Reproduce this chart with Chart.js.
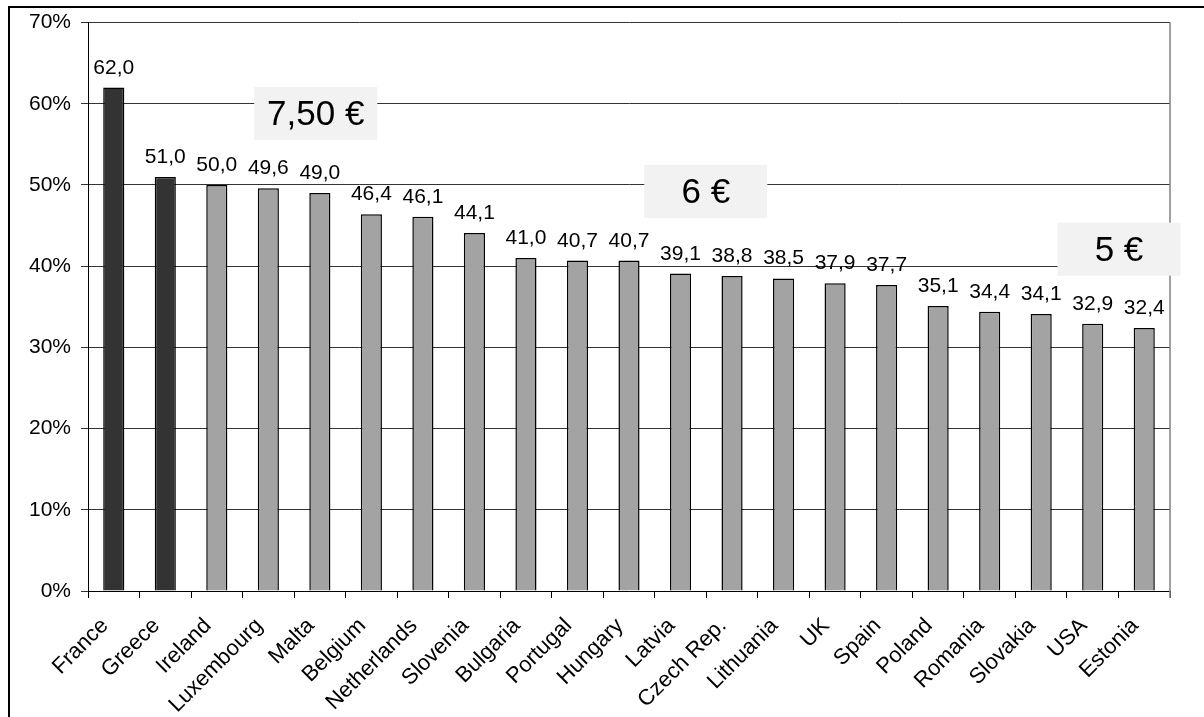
<!DOCTYPE html>
<html>
<head>
<meta charset="utf-8">
<script src="https://cdn.jsdelivr.net/npm/chart.js@4.4.1/dist/chart.umd.min.js"></script>
<style>
  html, body { margin: 0; padding: 0; background: #fff; overflow: hidden; }
  #wrap { position: relative; width: 1204px; height: 717px; }
  #frame { position: absolute; left: 8px; top: 6px; width: 1300px; height: 800px; border: 2px solid #000; box-sizing: border-box; }
  #myChart { position: absolute; left: 0; top: 0; }
</style>
</head>
<body>
<div id="wrap">
  <div id="frame"></div>
  <canvas id="myChart" width="1204" height="717"></canvas>
</div>
<script>
const countries = ['France', 'Greece', 'Ireland', 'Luxembourg', 'Malta', 'Belgium', 'Netherlands', 'Slovenia', 'Bulgaria', 'Portugal', 'Hungary', 'Latvia', 'Czech Rep.', 'Lithuania', 'UK', 'Spain', 'Poland', 'Romania', 'Slovakia', 'USA', 'Estonia'];
const shares = [62.0, 51.0, 50.0, 49.6, 49.0, 46.4, 46.1, 44.1, 41.0, 40.7, 40.7, 39.1, 38.8, 38.5, 37.9, 37.7, 35.1, 34.4, 34.1, 32.9, 32.4];
const highlighted = ['France', 'Greece'];
const yTicks = [0, 10, 20, 30, 40, 50, 60, 70];
// price boxes: label, position along the category axis (index) and value axis (%)
const priceLabels = ['7,50 €', '6 €', '5 €'];
const priceAtIndex = [3.92, 11.49, 19.51];
const priceAtValue = [58.8, 49.2, 42.1];

const FONT = "'Liberation Sans', Arial, sans-serif";

const barColors = countries.map(c => highlighted.includes(c) ? '#333333' : '#a3a3a3');

const valueLabels = {
    id: 'valueLabels',
    afterDatasetsDraw(chart) {
        const ctx = chart.ctx;
        const meta = chart.getDatasetMeta(0);
        ctx.save();
        ctx.font = '21px ' + FONT;
        ctx.fillStyle = '#000';
        ctx.textAlign = 'center';
        ctx.textBaseline = 'alphabetic';
        meta.data.forEach((bar, i) => {
            ctx.fillText(shares[i].toFixed(1).replace('.', ','), bar.x, bar.y - 14);
        });
        ctx.restore();
    }
};

const priceBoxes = {
    id: 'priceBoxes',
    afterDatasetsDraw(chart) {
        const ctx = chart.ctx;
        const xs = chart.scales.x, ys = chart.scales.y;
        ctx.save();
        ctx.font = '35px ' + FONT;
        priceLabels.forEach((txt, i) => {
            const cx = xs.getPixelForValue(priceAtIndex[i]);
            const cy = ys.getPixelForValue(priceAtValue[i]);
            const w = 123, h = 53;
            ctx.fillStyle = '#f2f2f2';
            ctx.fillRect(cx - w / 2, cy - h / 2, w, h);
            ctx.fillStyle = '#000';
            ctx.textAlign = 'center';
            ctx.textBaseline = 'middle';
            ctx.fillText(txt, cx, cy + 2);
        });
        ctx.restore();
    }
};

const plotBorder = {
    id: 'plotBorder',
    beforeDatasetsDraw(chart) {
        const a = chart.chartArea;
        const ctx = chart.ctx;
        ctx.save();
        ctx.strokeStyle = '#808080';
        ctx.lineWidth = 1.5;
        ctx.beginPath();
        ctx.moveTo(a.right, a.top);
        ctx.lineTo(a.right, a.bottom + 7);
        ctx.stroke();
        ctx.restore();
    }
};

const ctx = document.getElementById('myChart').getContext('2d');
const myChart = new Chart(ctx, {
    type: 'bar',
    data: {
        labels: countries,
        datasets: [{
            data: shares,
            backgroundColor: barColors,
            borderColor: '#000',
            borderWidth: 1.5,
            categoryPercentage: 1,
            barPercentage: 0.41
        }]
    },
    options: {
        responsive: false,
        animation: false,
        devicePixelRatio: 1,
        layout: { padding: { top: 21, right: 34, left: 0, bottom: 0 } },
        plugins: {
            legend: { display: false },
            tooltip: { enabled: false }
        },
        scales: {
            x: {
                grid: { display: true, offset: true, drawOnChartArea: false, drawTicks: true, tickLength: 7, color: '#000' },
                border: { display: true, color: '#000', width: 1 },
                ticks: {
                    autoSkip: false,
                    maxRotation: 45,
                    minRotation: 45,
                    color: '#000',
                    font: { family: FONT, size: 22 },
                    padding: 15,
                    labelOffset: -9
                },
                afterFit(scale) { scale.height = 126; }
            },
            y: {
                min: 0,
                max: 70,
                afterBuildTicks(scale) { scale.ticks = yTicks.map(v => ({ value: v })); },
                grid: { color: '#333', lineWidth: 1, tickLength: 7 },
                border: { display: true, color: '#000', width: 1 },
                ticks: {
                    color: '#000',
                    font: { family: FONT, size: 21 },
                    padding: 10,
                    callback: v => v + '%'
                },
                afterFit(scale) { scale.width = 88; }
            }
        }
    },
    plugins: [plotBorder, valueLabels, priceBoxes]
});
</script>
</body>
</html>
